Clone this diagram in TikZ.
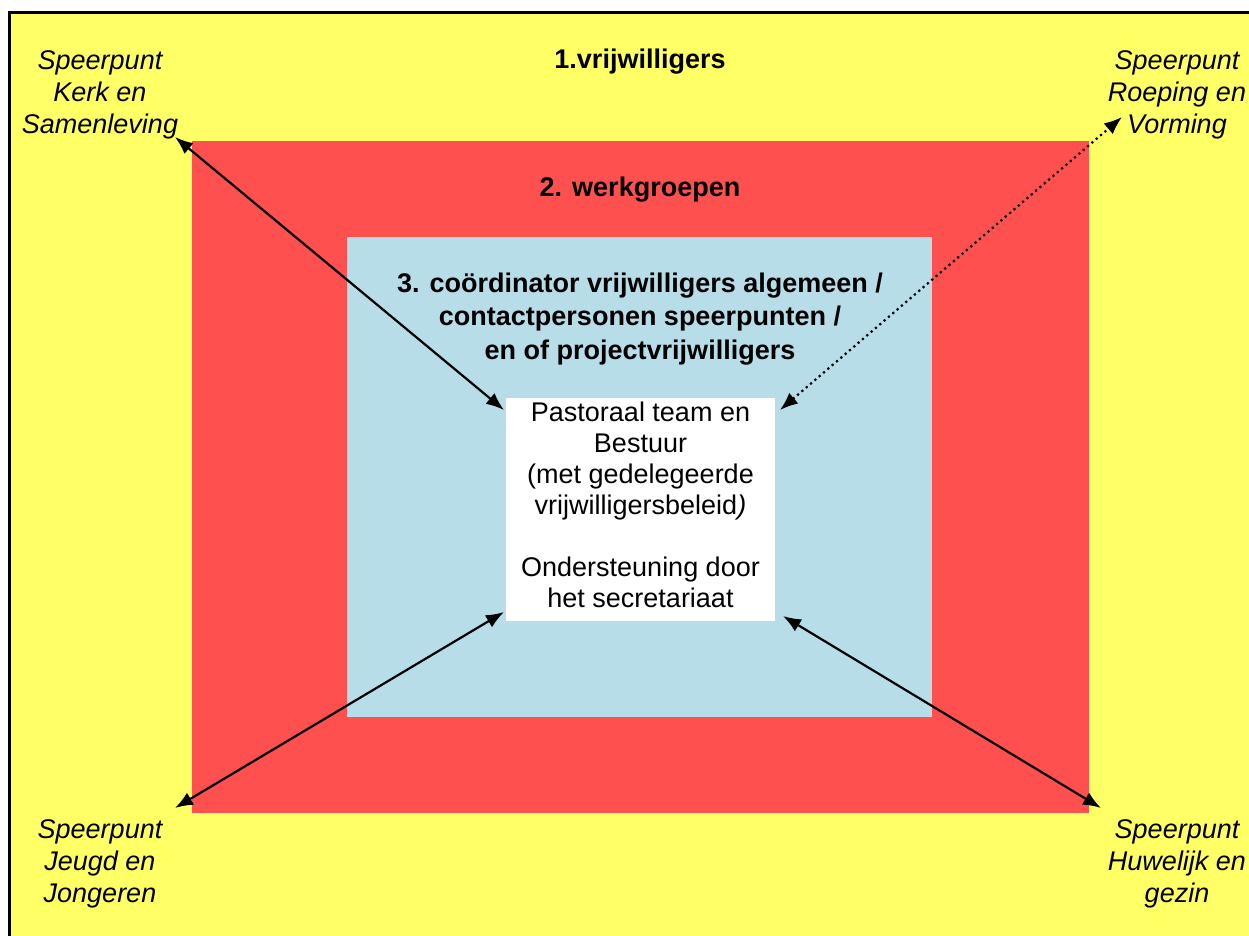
\documentclass[tikz,border=0pt]{standalone}
\usepackage{fontspec}
\setmainfont{Liberation Sans}
\usetikzlibrary{arrows.meta}
\definecolor{ylw}{HTML}{FFFF66}
\definecolor{rd}{HTML}{FF5050}
\definecolor{blu}{HTML}{B7DDE8}
\tikzset{
  lbl/.style={align=center,font=\fontsize{27}{32}\selectfont\itshape,inner sep=0pt},
  ttl/.style={align=center,font=\fontsize{27}{33.5}\selectfont\bfseries,inner sep=0pt},
  conn/.style={line width=2.2pt,{Latex[length=18pt,width=14pt]}-{Latex[length=18pt,width=14pt]}},
  dotconn/.style={conn,dash pattern=on 2.2pt off 3.5pt}
}
\begin{document}
\begin{tikzpicture}[x=1pt,y=-1pt]
\clip (0,0) rectangle (1249,936);
\fill[white] (0,0) rectangle (1249,936);
\draw[fill=ylw,line width=2.5pt] (9.5,12.5) rectangle (1270,960);
\fill[rd] (192,141) rectangle (1089,813);
\fill[blu] (347,237) rectangle (932,717);
\node[fill=white,minimum width=269pt,minimum height=223pt,inner sep=0pt] (core) at (640.5,509.5) {};
\node[align=center,font=\fontsize{27}{31}\selectfont,inner sep=0pt,anchor=north] (coretext) at (640.5,402)
  {Pastoraal team en\\Bestuur\\(met gedelegeerde\\vrijwilligersbeleid\textit{)}\\[31pt]Ondersteuning door\\het secretariaat};
\node[ttl] (t1) at (640,62) {1.vrijwilligers};
\node[ttl] (t2) at (640,190) {2. werkgroepen};
\node[ttl] (t3) at (640,319) {3. coördinator vrijwilligers algemeen /\\contactpersonen speerpunten /\\en of projectvrijwilligers};
\node[lbl] (kerk) at (100,95) {Speerpunt\\Kerk en\\Samenleving};
\node[lbl] (roep) at (1177,95) {Speerpunt\\Roeping en\\Vorming};
\node[lbl] (jeugd) at (100,864) {Speerpunt\\Jeugd en\\Jongeren};
\node[lbl] (huw) at (1177,864) {Speerpunt\\Huwelijk en\\gezin};
\coordinate (kerkA) at (175,137);
\coordinate (roepA) at (1122,117);
\coordinate (jeugdA) at (175,808);
\coordinate (huwA) at (1101,808);
\coordinate (coreNW) at (504,410);
\coordinate (coreNE) at (780,410);
\coordinate (coreSW) at (504,612);
\coordinate (coreSE) at (783,616);
\draw[conn] (kerkA) -- (coreNW);
\draw[dotconn] (coreNE) -- (roepA);
\draw[conn] (jeugdA) -- (coreSW);
\draw[conn] (coreSE) -- (huwA);
\end{tikzpicture}
\end{document}
